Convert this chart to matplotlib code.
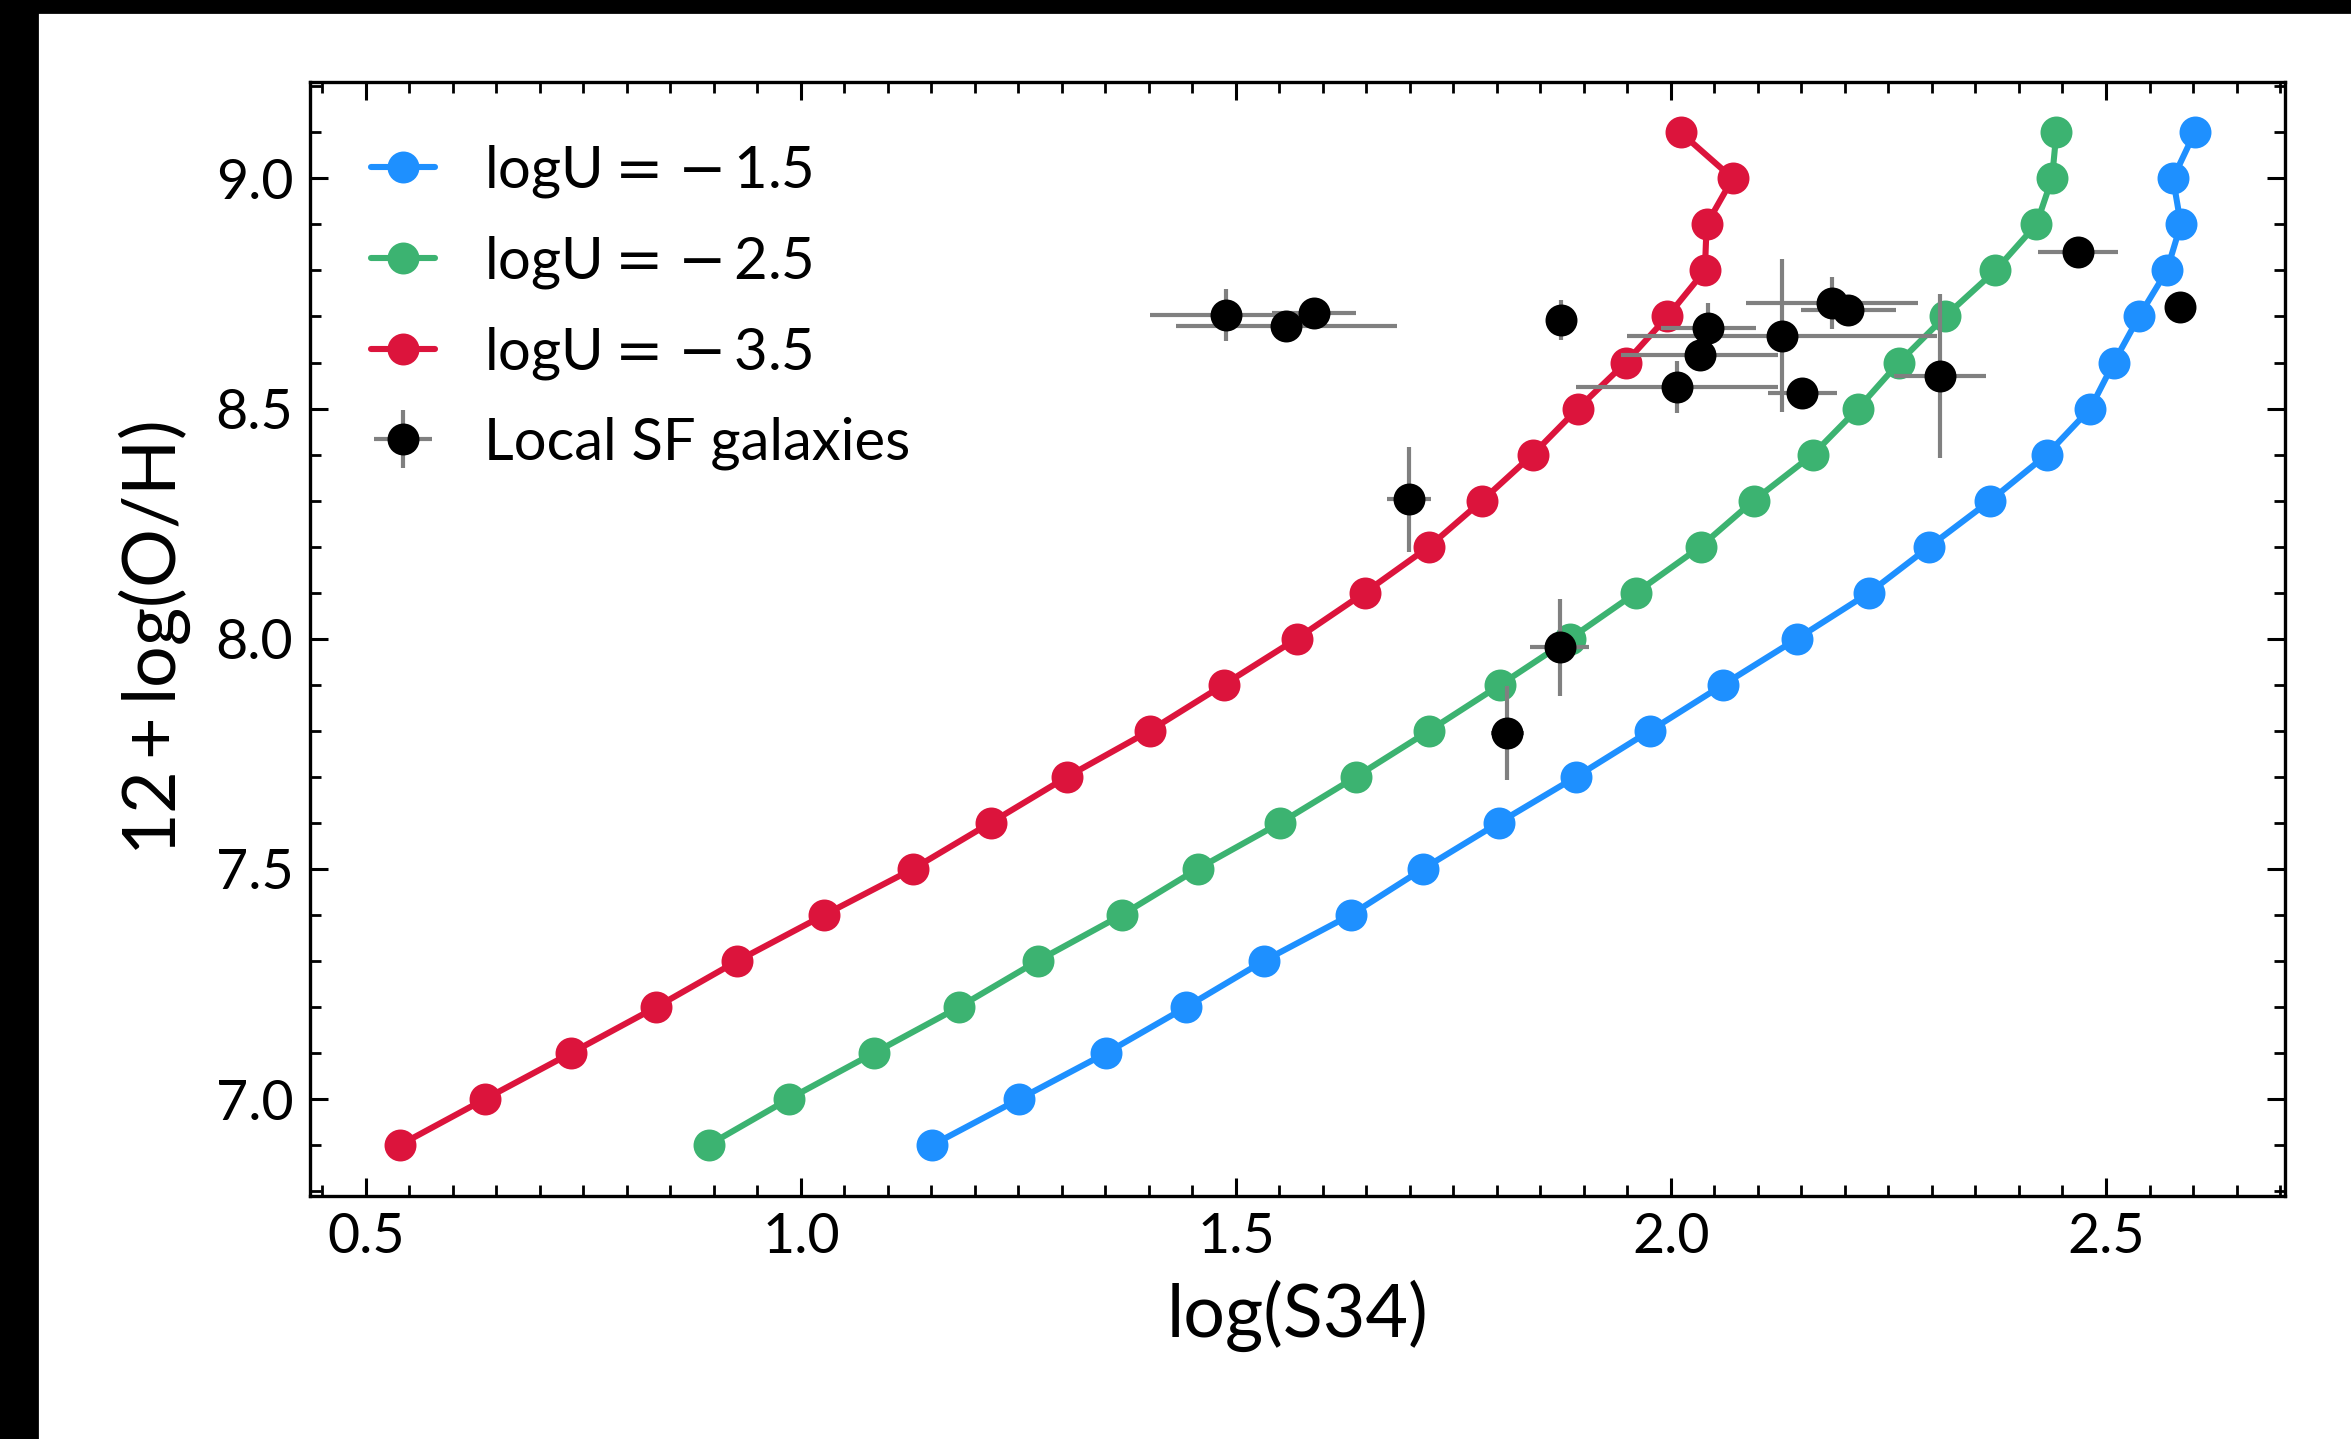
import matplotlib
matplotlib.use("Agg")
import matplotlib.pyplot as plt
from matplotlib.ticker import MultipleLocator
from matplotlib.patches import Rectangle

plt.rcParams['font.family'] = ['Lato', 'DejaVu Sans']
plt.rcParams['mathtext.fontset'] = 'custom'
plt.rcParams['mathtext.rm'] = 'Lato'
plt.rcParams['mathtext.it'] = 'Lato:italic'
plt.rcParams['mathtext.bf'] = 'Lato:bold'
plt.rcParams['mathtext.sf'] = 'DejaVu Sans'

# ---- data ----
oh_grid = [6.9, 7.0, 7.1, 7.2, 7.3, 7.4, 7.5, 7.6, 7.7, 7.8, 7.9, 8.0,
           8.1, 8.2, 8.3, 8.4, 8.5, 8.6, 8.7, 8.8, 8.9, 9.0, 9.1]

s34_logU_m15 = [1.151, 1.251, 1.351, 1.443, 1.532, 1.632, 1.715, 1.802, 1.891,
                1.976, 2.060, 2.145, 2.228, 2.297, 2.367, 2.432, 2.482, 2.509,
                2.538, 2.570, 2.586, 2.577, 2.602]
s34_logU_m25 = [0.894, 0.986, 1.084, 1.182, 1.272, 1.369, 1.456, 1.551, 1.638,
                1.722, 1.804, 1.884, 1.960, 2.034, 2.095, 2.163, 2.215, 2.262,
                2.315, 2.373, 2.420, 2.438, 2.443]
s34_logU_m35 = [0.539, 0.637, 0.736, 0.834, 0.927, 1.027, 1.129, 1.218, 1.306,
                1.401, 1.486, 1.570, 1.648, 1.722, 1.783, 1.841, 1.893, 1.948,
                1.996, 2.039, 2.041, 2.071, 2.011]

gal_s34 = [1.489, 1.558, 1.590, 1.699, 1.874, 2.043, 2.033, 2.128, 2.185,
           2.204, 2.007, 2.151, 2.309, 2.468, 2.585, 1.872, 1.812]
gal_oh = [8.703, 8.679, 8.708, 8.303, 8.692, 8.675, 8.617, 8.658, 8.729,
          8.713, 8.547, 8.534, 8.570, 8.841, 8.721, 7.981, 7.795]
gal_s34_err = [0.088, 0.127, 0.048, 0.025, 0.0, 0.055, 0.090, 0.178, 0.099,
               0.055, 0.116, 0.040, 0.053, 0.046, 0.0, 0.034, 0.019]
gal_oh_err = [0.057, 0.0, 0.0, 0.114, 0.044, 0.054, 0.0, 0.166, 0.057,
              0.0, 0.056, 0.0, 0.178, 0.0, 0.0, 0.106, 0.102]

logU_values = ['1.5', '2.5', '3.5']
labels = [r'$\mathrm{logU}\hspace{0.04}\mathsf{=}\hspace{0.12}\mathsf{-}\hspace{0.16}%s$' % v
          for v in logU_values]
colors = ['#1E90FF', '#3CB371', '#DC143C']

# ---- figure ----
fig = plt.figure(figsize=(2351 / 200, 1439 / 200), dpi=200)
ax = fig.add_axes([310 / 2351, 1 - 1195.7 / 1439, (2284.5 - 310) / 2351, (1195.7 - 81.7) / 1439])

for s34, lab, col in zip([s34_logU_m15, s34_logU_m25, s34_logU_m35], labels, colors):
    ax.plot(s34, oh_grid, '-o', color=col, lw=2.2, ms=10.5, label=lab,
            solid_capstyle='round')

ax.errorbar(gal_s34, gal_oh, xerr=gal_s34_err, yerr=gal_oh_err, fmt='o',
            color='black', ms=10.5, ecolor='gray', elinewidth=1.5, capsize=0,
            label='Local SF galaxies', zorder=3)

ax.set_xlabel('log(S34)', fontsize=26.5, labelpad=6)
ax.set_ylabel(r'$12+\mathrm{log(O/H)}$', fontsize=26.5, labelpad=8)

ax.xaxis.set_major_locator(MultipleLocator(0.5))
ax.xaxis.set_minor_locator(MultipleLocator(0.05))
ax.yaxis.set_major_locator(MultipleLocator(0.5))
ax.yaxis.set_minor_locator(MultipleLocator(0.1))
ax.tick_params(which='both', direction='in', top=True, right=True, labelsize=20, pad=6)
ax.tick_params(which='major', length=6.5, width=1.1)
ax.tick_params(which='minor', length=4, width=1.0)
for sp in ax.spines.values():
    sp.set_linewidth(1.2)

ax.legend(loc='upper left', frameon=False, fontsize=20.9, handlelength=1.1,
          handletextpad=0.85, labelspacing=0.59, borderaxespad=0.65)

# black strips along the left and top edges of the image
fig.patches.append(Rectangle((0, 0), 37 / 2351, 1, transform=fig.transFigure,
                             color='black', zorder=10))
fig.patches.append(Rectangle((0, 1 - 12 / 1439), 1, 12 / 1439, transform=fig.transFigure,
                             color='black', zorder=10))

fig.savefig('out.png', dpi=200)
